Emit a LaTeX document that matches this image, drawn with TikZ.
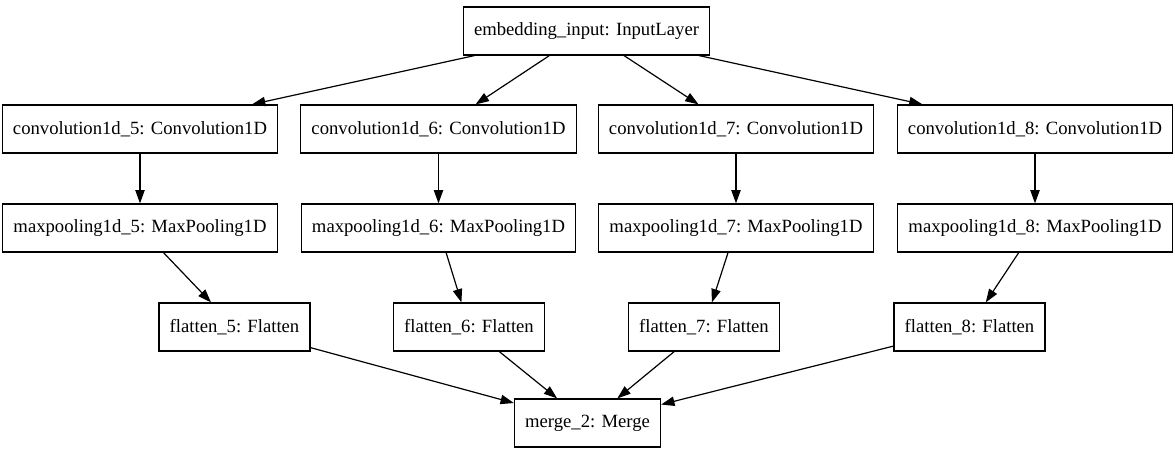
\documentclass[tikz,border=0pt]{standalone}
\usepackage{fontspec}
\setmainfont{Liberation Serif}
\usetikzlibrary{arrows.meta}
\tikzset{
  capa/.style={draw, line width=0.9pt, minimum height=36pt, inner xsep=8pt, font=\fontsize{14}{16}\selectfont},
  flecha/.style={-{Triangle[length=10pt,width=7pt]}, line width=0.9pt}
}
\begin{document}
\begin{tikzpicture}[x=0.75pt,y=-0.75pt]
    \useasboundingbox (0,0) rectangle (1175,456);
    % Entrada
    \node[capa] (emb) at (586.5,31) {embedding\_input: InputLayer};

    % Ramas
    \foreach \i/\x/\xf in {
        5/140/234.5,
        6/438.5/469,
        7/736/704,
        8/1035/969.5
        } {
        \node[capa] (conv\i) at (\x,129) {convolution1d\_\i: Convolution1D};
        \node[capa] (pool\i) at (\x,228) {maxpooling1d\_\i: MaxPooling1D};
        \node[capa] (flat\i) at (\xf,327) {flatten\_\i: Flatten};
    }

    % Salida
    \node[capa] (merge) at (587.5,423) {merge\_2: Merge};

    % Flechas
    \foreach \i in {5,...,8} {
        \draw[flecha] (emb) -- (conv\i);
        \draw[flecha] (conv\i) -- (pool\i);
        \draw[flecha] (pool\i) -- (flat\i);
        \draw[flecha] (flat\i) -- (merge);
    }
\end{tikzpicture}
\end{document}
